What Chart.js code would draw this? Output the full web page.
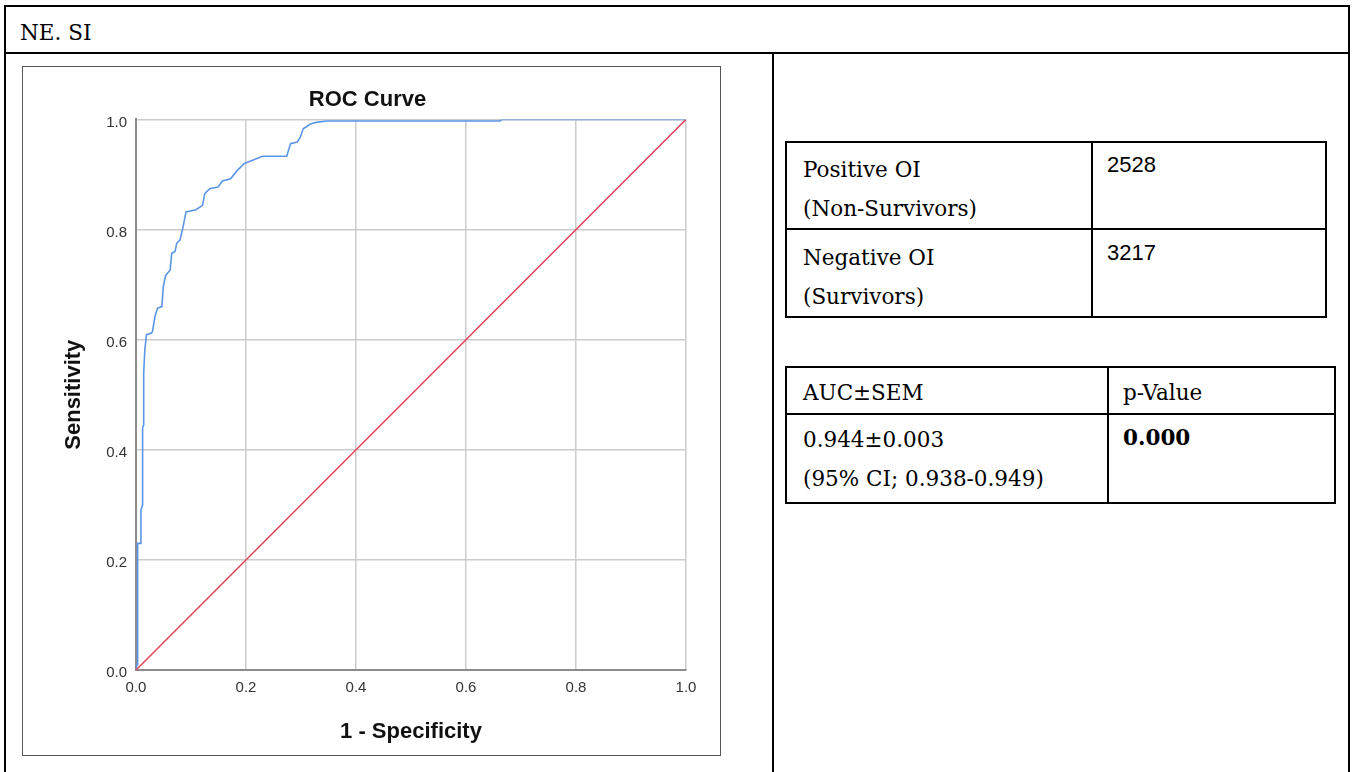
<!DOCTYPE html>
<html>
<head>
<meta charset="utf-8">
<script src="https://cdn.jsdelivr.net/npm/chart.js@4.4.0/dist/chart.umd.min.js"></script>
<style>
  body { margin: 0; width: 1352px; height: 772px; overflow: hidden; background: #fff; position: relative; }
  .frame { position: absolute; left: 4px; top: 5px; width: 1346px; height: 820px; border: 2px solid #000; box-sizing: border-box; }
  .box { position: absolute; border: 2px solid #000; box-sizing: border-box; }
  .hline { position: absolute; height: 2px; background: #000; }
  .vline { position: absolute; width: 2px; background: #000; }
  .serif { position: absolute; font-family: "DejaVu Serif", serif; font-size: 21.5px; line-height: 39px; color: #000; white-space: nowrap; }
  .sans { position: absolute; font-family: "Liberation Sans", Arial, sans-serif; font-size: 22px; line-height: 22px; color: #000; white-space: nowrap; }
  #chartBox { position: absolute; left: 22px; top: 66px; width: 699px; height: 690px; border: 1px solid #555; box-sizing: border-box; }
  #roc { display: block; }
</style>
</head>
<body>
<div class="frame"></div>
<div class="hline" style="left:4px; top:52px; width:1346px;"></div>
<div class="vline" style="left:772px; top:52px; height:720px;"></div>
<div class="serif" style="left:20px; top:13px;">NE. SI</div>

<div id="chartBox"><canvas id="roc" width="697" height="688"></canvas></div>

<!-- counts table -->
<div class="box" style="left:785px; top:141px; width:542px; height:177px;"></div>
<div class="vline" style="left:1091px; top:141px; height:177px;"></div>
<div class="hline" style="left:785px; top:228px; width:542px;"></div>
<div class="serif" style="left:803px; top:150px;">Positive OI<br>(Non-Survivors)</div>
<div class="sans" style="left:1107px; top:154px;">2528</div>
<div class="serif" style="left:803px; top:238px;">Negative OI<br>(Survivors)</div>
<div class="sans" style="left:1107px; top:242px;">3217</div>

<!-- AUC table -->
<div class="box" style="left:785px; top:366px; width:551px; height:138px;"></div>
<div class="vline" style="left:1107px; top:366px; height:138px;"></div>
<div class="hline" style="left:785px; top:413px; width:551px;"></div>
<div class="serif" style="left:803px; top:373px;">AUC±SEM</div>
<div class="serif" style="left:1123px; top:373px;">p-Value</div>
<div class="serif" style="left:803px; top:420px;">0.944±0.003<br>(95% CI; 0.938-0.949)</div>
<div class="serif" style="left:1123px; top:418px; font-weight:bold;">0.000</div>

<script>
// ROC curve (1 - specificity, sensitivity)
const fprValues = [0, 0.002, 0.003, 0.008, 0.009, 0.012, 0.012, 0.014, 0.014, 0.016, 0.019, 0.028, 0.030,
  0.0345, 0.039, 0.047, 0.0496, 0.054, 0.062, 0.065, 0.071, 0.074, 0.080, 0.085, 0.091, 0.109, 0.121,
  0.125, 0.134, 0.149, 0.157, 0.172, 0.183, 0.197, 0.212, 0.230, 0.274, 0.281, 0.293, 0.299, 0.304,
  0.318, 0.330, 0.348, 0.662, 0.665, 1.0];
const tprValues = [0, 0.01, 0.23, 0.23, 0.29, 0.30, 0.44, 0.445, 0.54, 0.58, 0.609, 0.612, 0.615,
  0.642, 0.657, 0.660, 0.696, 0.717, 0.726, 0.757, 0.760, 0.775, 0.781, 0.802, 0.832, 0.836, 0.844,
  0.865, 0.874, 0.877, 0.888, 0.892, 0.906, 0.920, 0.926, 0.933, 0.933, 0.956, 0.959, 0.968, 0.983,
  0.992, 0.995, 0.997, 0.997, 1.0, 1.0];
// reference line
const refFpr = [0, 1];
const refTpr = [0, 1];
const tickValues = [0, 0.2, 0.4, 0.6, 0.8, 1.0];

const sansFont = "'Liberation Sans', Arial, sans-serif";

function toPoints(xs, ys) {
  return xs.map((x, i) => ({ x: x, y: ys[i] }));
}

function gridColor(ctx) {
  // the value 0 line is the axis itself, drawn by the border
  return ctx.tick && ctx.tick.value === 0 ? 'rgba(0,0,0,0)' : '#cccccc';
}

const ctx = document.getElementById('roc').getContext('2d');
new Chart(ctx, {
  type: 'scatter',
  data: {
    datasets: [
      {
        data: toPoints(refFpr, refTpr),
        showLine: true,
        borderColor: '#e8425c',
        borderWidth: 1.5,
        pointRadius: 0,
        fill: false
      },
      {
        data: toPoints(fprValues, tprValues),
        showLine: true,
        borderColor: '#5b96e6',
        borderWidth: 1.6,
        pointRadius: 0,
        fill: false
      }
    ]
  },
  options: {
    responsive: false,
    animation: false,
    layout: { padding: { top: 0, right: 34, bottom: 0, left: 26 } },
    plugins: {
      legend: { display: false },
      tooltip: { enabled: false },
      title: {
        display: true,
        text: 'ROC Curve',
        color: '#111',
        font: { family: sansFont, size: 22, weight: 'bold' },
        padding: { top: 20, bottom: 6 }
      }
    },
    scales: {
      x: {
        type: 'linear',
        min: 0,
        max: 1,
        afterFit: function (scale) { scale.height = 85; },
        afterBuildTicks: function (scale) { scale.ticks = tickValues.map(v => ({ value: v })); },
        grid: { color: gridColor, lineWidth: 1.5, drawTicks: false },
        border: { display: true, color: '#8c8c8c', width: 2 },
        ticks: {
          padding: 9,
          color: '#333',
          font: { family: sansFont, size: 15 },
          callback: v => Number(v).toFixed(1)
        },
        title: {
          display: true,
          text: '1 - Specificity',
          color: '#111',
          font: { family: sansFont, size: 22, weight: 'bold' },
          padding: { top: 0, bottom: 10 }
        }
      },
      y: {
        type: 'linear',
        min: 0,
        max: 1,
        afterFit: function (scale) { scale.width = 87; },
        afterBuildTicks: function (scale) { scale.ticks = tickValues.map(v => ({ value: v })); },
        grid: { color: gridColor, lineWidth: 1.5, drawTicks: false },
        border: { display: true, color: '#8c8c8c', width: 2 },
        ticks: {
          padding: 9,
          labelOffset: 3,
          color: '#333',
          font: { family: sansFont, size: 15 },
          callback: v => Number(v).toFixed(1)
        },
        title: {
          display: true,
          text: 'Sensitivity',
          color: '#111',
          font: { family: sansFont, size: 22, weight: 'bold' },
          padding: { top: 12, bottom: 0 }
        }
      }
    }
  }
});
</script>
</body>
</html>
